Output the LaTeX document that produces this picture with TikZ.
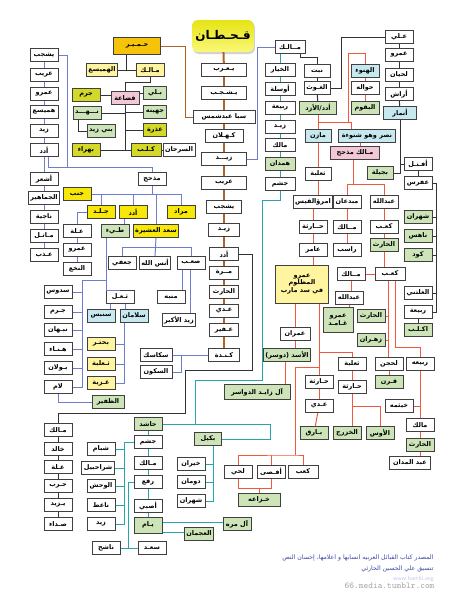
\documentclass[tikz,border=0pt]{standalone}
\usepackage{fontspec}
\usepackage{tikz}
\usetikzlibrary{shadows}
\TeXXeTstate=1
\newfontfamily\arabicfont[Script=Arabic]{DejaVu Sans}
\newcommand{\artxt}[1]{\beginR #1\endR}
\definecolor{brn}{RGB}{176,98,40}
\definecolor{bl}{RGB}{110,125,205}
\definecolor{tl}{RGB}{40,165,170}
\definecolor{rd}{RGB}{240,90,60}
\definecolor{yel}{RGB}{248,232,10}
\definecolor{olv}{RGB}{212,216,40}
\definecolor{lgr}{RGB}{205,228,185}
\definecolor{pal}{RGB}{255,244,160}
\definecolor{hgold}{RGB}{245,195,10}
\definecolor{pnk}{RGB}{242,200,215}
\definecolor{lbl}{RGB}{200,232,240}
\definecolor{ttop}{RGB}{230,228,20}
\definecolor{tbot}{RGB}{250,248,120}
\definecolor{srct}{RGB}{60,70,170}
\begin{document}
\begin{tikzpicture}[x=1pt,y=-1pt]
\tikzstyle{box}=[rectangle,draw=black!75,line width=1pt,fill=white,inner xsep=1.5pt,inner ysep=0pt,minimum height=13pt,minimum width=28pt,font=\arabicfont\bfseries\fontsize{6.5}{7.5}\selectfont]
\tikzstyle{qbox}=[rectangle,rounded corners=6pt,top color=ttop,bottom color=tbot,minimum width=57pt,minimum height=32pt,drop shadow={shadow xshift=1pt,shadow yshift=-2pt,opacity=0.35},font=\arabicfont\bfseries\fontsize{12}{14}\selectfont]
\tikzstyle{brl}=[draw=brn,line width=2pt]
\tikzstyle{bll}=[draw=bl,line width=1pt]
\tikzstyle{tll}=[draw=tl,line width=1pt]
\tikzstyle{rdl}=[draw=rd,line width=1pt]
\tikzstyle{bkl}=[draw=black!80,line width=1pt]
\useasboundingbox (0,0) rectangle (448,600);
\fill[white] (0,0) rectangle (448,600);

\node[qbox] (qahtan) at (223,36) {\artxt{قـحـطـان}};
\node[box,minimum width=45pt] (yarub) at (224,70) {\artxt{يـعـرب}};
\node[box,minimum width=45pt] (yashjub) at (224,93) {\artxt{يـشـجـب}};
\node[box,minimum width=62pt] (saba) at (224,117) {\artxt{سبا عبدشمس}};
\node[box,minimum width=38pt] (kahlan) at (224,136) {\artxt{كـهـلان}};
\node[box,minimum width=45pt] (zaid) at (224,159) {\artxt{زيـــد}};
\node[box,minimum width=45pt] (arib) at (224,183) {\artxt{عريب}};
\node[box,minimum width=35pt] (yashjubb) at (224,207) {\artxt{يشجب}};
\node[box,minimum width=31pt] (zaidb) at (224,230) {\artxt{زيـد}};
\node[box,minimum width=29pt] (udad) at (224,254) {\artxt{أدد}};
\node[box,minimum width=29pt] (murra) at (224,273) {\artxt{مــرة}};
\node[box,minimum width=29pt] (harith) at (224,292) {\artxt{الحارث}};
\node[box,minimum width=29pt] (adi) at (224,311) {\artxt{عـدي}};
\node[box,minimum width=29pt] (ufair) at (224,330) {\artxt{عـفير}};
\node[box,minimum width=31pt] (kinda) at (224,355) {\artxt{كـنـدة}};

\node[box,fill=hgold,minimum width=47pt,minimum height=17pt] (himyar) at (137,46) {\artxt{حـمـيـر}};
\node[box,fill=pal] (hamaisa) at (102,70) {\artxt{الهميسع}};
\node[box,fill=pal] (malika) at (150,70) {\artxt{مـالـك}};
\node[box,fill=pnk] (qudaa) at (125,98) {\artxt{قضاعة}};
\node[box,fill=olv] (jarm) at (86,95) {\artxt{جرم}};
\node[box,fill=lgr] (nahd) at (87,113) {\artxt{نـــهـــد}};
\node[box,fill=lgr] (banizaid) at (101,131) {\artxt{بني زيد}};
\node[box,fill=lgr,minimum width=23pt] (bali) at (155,93) {\artxt{بـلي}};
\node[box,fill=lgr,minimum width=23pt] (juhaina) at (155,112) {\artxt{جهينه}};
\node[box,fill=olv,minimum width=23pt] (udhra) at (155,130) {\artxt{عذرة}};
\node[box,fill=olv,minimum width=30pt] (kalb) at (146,150) {\artxt{كـلـب}};
\node[box,minimum width=32pt] (sarhan) at (179,150) {\artxt{السرحان}};
\node[box,fill=olv] (bahra) at (86,150) {\artxt{بهراء}};

\node[box] (la) at (44,55) {\artxt{يشجب}};
\node[box] (lb) at (44,75) {\artxt{عريب}};
\node[box] (lc) at (44,94) {\artxt{عمرو}};
\node[box] (ld) at (44,112) {\artxt{هميسع}};
\node[box] (le) at (44,131) {\artxt{زيد}};
\node[box] (lf) at (44,150) {\artxt{أدد}};
\node[box] (lg) at (44,179) {\artxt{أشعر}};
\node[box] (lh) at (44,198) {\artxt{الجماهير}};
\node[box] (li) at (44,217) {\artxt{ناجية}};
\node[box] (lj) at (44,236) {\artxt{مـاتـل}};
\node[box] (lk) at (44,255) {\artxt{عـذب}};

\node[box] (madh) at (152,179) {\artxt{مذحج}};
\node[box,fill=yel] (janb) at (77,194) {\artxt{جنب}};
\node[box,fill=yel] (jild) at (101,212) {\artxt{جـلـد}};
\node[box,fill=yel] (udady) at (133,212) {\artxt{أدد}};
\node[box,fill=yel] (murad) at (181,212) {\artxt{مراد}};
\node[box,fill=yel,minimum width=42pt] (saad) at (156,231) {\artxt{سعد العشيرة}};
\node[box,fill=lgr] (tayy) at (115,231) {\artxt{طـيء}};
\node[box] (ila) at (77,231) {\artxt{عـلة}};
\node[box] (amrn) at (77,250) {\artxt{عمرو}};
\node[box] (nakha) at (77,269) {\artxt{النخع}};
\node[box] (jufi) at (122,263) {\artxt{جعفي}};
\node[box,minimum width=26pt] (anas) at (155,263) {\artxt{أنس الله}};
\node[box] (sab) at (191,263) {\artxt{صعـب}};
\node[box] (munabbih) at (171,297) {\artxt{منبه}};
\node[box,minimum width=32pt] (zaidak) at (179,320) {\artxt{زيد الأكبر}};
\node[box,minimum width=32pt] (sakasik) at (156,355) {\artxt{سكاسك}};
\node[box,minimum width=32pt] (sakun) at (156,372) {\artxt{السكون}};

\node[box] (sadus) at (58,292) {\artxt{سدوس}};
\node[box] (thual) at (120,297) {\artxt{ثـعـل}};
\node[box] (jarmt) at (58,312) {\artxt{جـرم}};
\node[box] (nabhan) at (58,330) {\artxt{نبـهان}};
\node[box] (hinna) at (58,349) {\artxt{هـنـاء}};
\node[box] (bawlan) at (58,368) {\artxt{بـولان}};
\node[box] (lam) at (58,387) {\artxt{لام}};
\node[box,fill=lbl] (sinbis) at (101,316) {\artxt{سنبس}};
\node[box,fill=lbl] (salaman) at (134,316) {\artxt{سلامان}};
\node[box,fill=pal] (buhtur) at (101,344) {\artxt{بحتـر}};
\node[box,fill=pal] (thalabay) at (101,364) {\artxt{ثـعلبة}};
\node[box,fill=pal] (ghuzayya) at (101,383) {\artxt{غـزية}};
\node[box,fill=lgr,minimum width=32pt] (zafir) at (108,402) {\artxt{الظفير}};

\node[box] (malikl) at (58,430) {\artxt{مـالك}};
\node[box] (khalid) at (58,449) {\artxt{خالد}};
\node[box] (ilab) at (58,467) {\artxt{عـلة}};
\node[box] (harb) at (58,486) {\artxt{حـرب}};
\node[box] (yazid) at (58,505) {\artxt{يـزيد}};
\node[box] (sudda) at (58,524) {\artxt{صـداء}};
\node[box] (shibam) at (101,449) {\artxt{شبام}};
\node[box,minimum width=33pt] (shurahbil) at (98,468) {\artxt{شراحبيل}};
\node[box] (wahsh) at (101,486) {\artxt{الوحش}};
\node[box] (naet) at (101,505) {\artxt{ناعط}};
\node[box] (zaidl) at (101,524) {\artxt{زيد}};
\node[box] (nashih) at (106,548) {\artxt{ناشح}};
\node[box,fill=lgr] (hashid) at (148,424) {\artxt{حاشد}};
\node[box] (jushamb) at (148,442) {\artxt{جشم}};
\node[box] (malikb) at (148,463) {\artxt{مـالك}};
\node[box] (rafa) at (148,482) {\artxt{رفع}};
\node[box] (asbi) at (148,506) {\artxt{أصبي}};
\node[box,fill=lgr,minimum height=16pt] (yam) at (148,525) {\artxt{يـام}};
\node[box] (saadb) at (152,548) {\artxt{سعـد}};
\node[box,fill=lgr,minimum width=27pt] (bakil) at (208,439) {\artxt{بكيل}};
\node[box] (khairan) at (191,464) {\artxt{خيران}};
\node[box] (dauman) at (191,482) {\artxt{دومان}};
\node[box] (shahrb) at (191,501) {\artxt{شهران}};
\node[box,fill=lgr] (almurra) at (237,524) {\artxt{آل مره}};
\node[box,fill=lgr] (ajman) at (199,534) {\artxt{العجمان}};

\node[box,minimum width=30pt] (malikt) at (290,47) {\artxt{مــالـك}};
\node[box,minimum width=30pt] (khiyar) at (280,70) {\artxt{الخيار}};
\node[box,minimum width=30pt] (awsala) at (280,89) {\artxt{أوسلة}};
\node[box,minimum width=30pt] (rabia) at (280,108) {\artxt{ربيعة}};
\node[box,minimum width=30pt] (zaidr) at (280,127) {\artxt{زيـد}};
\node[box,minimum width=30pt] (malikr) at (280,145) {\artxt{مالك}};
\node[box,fill=lgr,minimum width=30pt] (hamdan) at (280,164) {\artxt{همدان}};
\node[box,minimum width=30pt] (jusham) at (280,184) {\artxt{جشم}};
\node[box,minimum width=26pt] (nabt) at (317,71) {\artxt{نبت}};
\node[box,minimum width=26pt] (ghawth) at (317,88) {\artxt{الغـوث}};
\node[box,fill=lgr,minimum width=37pt] (azd) at (318,108) {\artxt{أدد/الأزد}};
\node[box,fill=lbl] (hanu) at (365,71) {\artxt{الهنوء}};
\node[box] (hawala) at (365,88) {\artxt{حواله}};
\node[box,fill=lgr] (baqum) at (365,108) {\artxt{البقوم}};
\node[box] (ali) at (399,37) {\artxt{عـلي}};
\node[box] (amr) at (399,55) {\artxt{عمرو}};
\node[box] (lihyan) at (399,75) {\artxt{لحيان}};
\node[box] (arash) at (399,94) {\artxt{أراش}};
\node[box,fill=lbl,minimum width=33pt] (anmar) at (400,113) {\artxt{أنمار}};
\node[box,fill=lbl,minimum width=26pt] (mazin) at (318,136) {\artxt{مازن}};
\node[box,fill=lbl,minimum width=57pt] (nasr) at (367,136) {\artxt{نصر وهو شنوءة}};
\node[box,fill=pnk,minimum width=49pt] (madhhij) at (355,153) {\artxt{مـالك مذحج}};

\node[box,minimum width=26pt] (thalaba) at (318,174) {\artxt{ثعلبة}};
\node[box,fill=lgr,minimum width=26pt] (bajila) at (380,173) {\artxt{بجيلة}};
\node[box] (aftal) at (418,164) {\artxt{أفـتـل}};
\node[box] (afras) at (418,183) {\artxt{عفرس}};
\node[box,minimum width=38pt] (imru) at (313,202) {\artxt{امرؤالقيس}};
\node[box] (mubdian) at (347,202) {\artxt{مبدعان}};
\node[box] (abdullah) at (384,202) {\artxt{عبدالله}};
\node[box] (haritha) at (313,227) {\artxt{حــارثة}};
\node[box] (malikm) at (347,227) {\artxt{مــالك}};
\node[box] (kab) at (384,227) {\artxt{كعـب}};
\node[box,fill=lgr] (shahran) at (418,217) {\artxt{شهران}};
\node[box,fill=lgr] (nahis) at (418,236) {\artxt{ناهس}};
\node[box,fill=lgr] (harithg) at (384,245) {\artxt{الحارث}};
\node[box] (amir) at (313,250) {\artxt{عامر}};
\node[box] (rasib) at (347,250) {\artxt{راسب}};
\node[box,fill=lgr] (kud) at (418,255) {\artxt{كود}};
\node[box,fill=pal,minimum width=53pt,minimum height=38pt,align=center] (amrm) at (302,284) {\artxt{عمرو}\\\artxt{المظلوم}\\\artxt{في سد مارب}};
\node[box] (maliks) at (351,274) {\artxt{مــالك}};
\node[box,minimum width=30pt] (kabs) at (390,274) {\artxt{كعـب}};
\node[box] (ghalti) at (418,293) {\artxt{الغلتني}};
\node[box] (abdullahs) at (349,298) {\artxt{عبدالله}};
\node[box] (rabiar) at (418,312) {\artxt{ربيعة}};
\node[box,fill=lgr] (aklub) at (418,330) {\artxt{اكـلـب}};
\node[box,fill=lgr,minimum width=30pt,minimum height=25pt,align=center] (ghamid) at (338,320) {\artxt{عمرو}\\\artxt{غـامـد}};
\node[box,fill=lgr] (harithz) at (371,316) {\artxt{الحارث}};
\node[box,fill=lgr] (zahran) at (371,340) {\artxt{زهـران}};
\node[box,minimum width=30pt] (imran) at (295,334) {\artxt{عمران}};
\node[box,fill=lgr,minimum width=41pt] (asad) at (287,355) {\artxt{الأسد (دوسر)}};
\node[box,fill=lgr,minimum width=66pt,minimum height=15pt] (alzayed) at (257,392) {\artxt{آل زايـد الدواسر}};
\node[box] (thalabab) at (352,364) {\artxt{ثعلبة}};
\node[box] (lihjan) at (389,364) {\artxt{لحجن}};
\node[box] (rabiab) at (420,364) {\artxt{ربيعه}};
\node[box] (harithaa) at (319,382) {\artxt{حـارثة}};
\node[box] (harithab) at (352,387) {\artxt{حـارثة}};
\node[box,fill=lgr] (qarn) at (389,382) {\artxt{قـرن}};
\node[box] (khaithama) at (399,406) {\artxt{خيثمه}};
\node[box] (adir) at (319,406) {\artxt{عـدي}};
\node[box] (malikk) at (420,425) {\artxt{مالك}};
\node[box,fill=lgr] (bariq) at (314,433) {\artxt{بـارق}};
\node[box,fill=lgr] (khazraj) at (347,433) {\artxt{الخزرج}};
\node[box,fill=lgr] (aws) at (380,433) {\artxt{الأوس}};
\node[box,fill=lgr] (harithk) at (420,445) {\artxt{الحارث}};
\node[box,minimum width=41pt] (abdmadan) at (410,463) {\artxt{عبد المدان}};
\node[box] (luhay) at (238,472) {\artxt{لحي}};
\node[box] (afsa) at (271,472) {\artxt{أفـصى}};
\node[box,minimum width=30pt] (kabb) at (303,472) {\artxt{كعب}};
\node[box,fill=lgr,minimum width=42pt] (khuzaa) at (259,500) {\artxt{خـزاعه}};

\node[font=\arabicfont\fontsize{6.2}{7}\selectfont,text=srct,anchor=east] (src) at (437,558) {\artxt{المصدر كتاب القبائل العربيه انسابها و اعلامها، إحسان النص}};
\node[font=\arabicfont\fontsize{6.2}{7}\selectfont,text=srct,anchor=east] (tns) at (437,569) {\artxt{تنسيق علي الحسين الحارثي}};
\node[font=\sffamily\fontsize{6}{7}\selectfont,text=bl!45,anchor=east] (web) at (437,579) {www.harthi.org};
\node[font=\ttfamily\fontsize{9}{10}\selectfont,text=gray!70,anchor=east] (wm) at (438,586) {66.media.tumblr.com};

\draw[brl](qahtan) -- (yarub);
\draw[brl](yarub) -- (yashjub);
\draw[brl](yashjub) -- (saba);
\draw[brl](saba) -- (kahlan);
\draw[brl](kahlan) -- (zaid);
\draw[brl](zaid) -- (arib);
\draw[brl](arib) -- (yashjubb);
\draw[brl](yashjubb) -- (zaidb);
\draw[brl](zaidb) -- (udad);
\draw[brl](udad) -- (murra);
\draw[brl](murra) -- (harith);
\draw[brl](harith) -- (adi);
\draw[brl](adi) -- (ufair);
\draw[brl](ufair) -- (kinda);
\draw[draw=brn,line width=1pt](himyar.east) -- (185,46) |- (saba.west);

\draw[bkl]([xshift=-11pt]himyar.south) |- (hamaisa.east);
\draw[bkl](hamaisa.east) -- (malika.west);
\draw[bkl](malika.south) -- ++(0,5) -| (qudaa.north);
\draw[bkl](qudaa.south) |- (kalb.west);
\draw[bkl](qudaa.south) |- (bahra.east);
\draw[bkl](jarm.east) -- (jarm.east-|qudaa.west);
\draw[bkl](bali.west) -- (bali.west-|qudaa.east);
\draw[bkl](nahd.east) -- (nahd.east-|qudaa.south);
\draw[bkl](juhaina.west) -- (juhaina.west-|qudaa.south);
\draw[bkl](udhra.west) -- (udhra.west-|qudaa.south);
\draw[bkl]([xshift=-9pt]nahd.south) |- (banizaid.west);
\draw[bkl](kalb) -- (sarhan);

\draw[bll](la) -- (lb);
\draw[bll](lb) -- (lc);
\draw[bll](lc) -- (ld);
\draw[bll](ld) -- (le);
\draw[bll](le) -- (lf);
\draw[bll](lf) -- (lg);
\draw[bll](lg) -- (lh);
\draw[bll](lh) -- (li);
\draw[bll](li) -- (lj);
\draw[bll](lj) -- (lk);
\draw[bll](la.east) -| (67,167) -| (madh.north);
\draw[bll]([xshift=4pt]lf.south) |- (67,167);
\draw[bll](malikt.west) -| (257,159) -- (zaid.east);

\draw[bll](madh.south) -- (madh.south|-janb.east);
\draw[bll](janb.east) -| (murad.north);
\draw[bll](jild.north) -- (jild.north|-janb.east);
\draw[bll](udady.north) -- (udady.north|-janb.east);
\draw[bll](saad.north) -- (saad.north|-janb.east);
\draw[bll](jild.west) -| (ila.north);
\draw[bll](ila) -- (amrn);
\draw[bll](amrn) -- (nakha);
\draw[bll]([xshift=-9pt]udady.south) -- ([xshift=9pt]tayy.north);
\draw[bll](jufi.north) -- ++(0,-9) -| (sab.north);
\draw[bll](saad.south) -- (anas.north);
\draw[bll]([xshift=-9pt]sab.south) -- ([xshift=-9pt]sab.south|-munabbih.north);
\draw[bll]([xshift=-1pt]sab.south) -- ([xshift=-1pt]sab.south|-zaidak.north);
\draw[bll](sakasik) -- (kinda);
\draw[bll](kinda.west) ++(-27,0) |- (sakun.east);

\draw[bll]([xshift=-9pt]tayy.south) |- (82,280) |- (lam.east);
\draw[bll]([xshift=-9pt]tayy.south) |- (thual.north-|106,0) -| (thual.north);
\draw[bll](sadus.east) -- ++(9.5,0);
\draw[bll](jarmt.east) -- ++(9.5,0);
\draw[bll](nabhan.east) -- ++(9.5,0);
\draw[bll](hinna.east) -- ++(9.5,0);
\draw[bll](bawlan.east) -- ++(9.5,0);
\draw[bll]([xshift=-10pt]thual.south) -- ([xshift=-10pt]thual.south|-sinbis.north);
\draw[bll]([xshift=5pt]thual.south) -- ([xshift=5pt]thual.south|-salaman.north);
\draw[bll]([xshift=-10pt]salaman.south) |- (ghuzayya.east);
\draw[bll](buhtur.east) -- ++(9,0);
\draw[bll](thalabay.east) -- ++(9,0);
\draw[bll](lam.south) |- (zafir.west);

\draw[bkl](udad.east) -| (252,370) -| (185,413) -| (malikl.north);
\draw[bkl](malikl) -- (khalid);
\draw[bkl](khalid) -- (ilab);
\draw[bkl](ilab) -- (harb);
\draw[bkl](harb) -- (yazid);
\draw[bkl](yazid) -- (sudda);

\draw[tll](khiyar.north|-malikt.south) -- (khiyar.north);
\draw[tll](khiyar) -- (awsala);
\draw[tll](awsala) -- (rabia);
\draw[tll](rabia) -- (zaidr);
\draw[tll](zaidr) -- (malikr);
\draw[tll](malikr) -- (hamdan);
\draw[tll](hamdan) -- (jusham);
\draw[tll](jusham.south) |- (262,200) -- (262,380) -| (195,424);
\draw[tll](hashid.east) -| (270,439) -- (bakil.east);
\draw[tll]([xshift=5pt]bakil.south) |- (shahrb.east);
\draw[tll](khairan.east) -- ++(8.5,0);
\draw[tll](dauman.east) -- ++(8.5,0);
\draw[tll](hashid) -- (jushamb);
\draw[tll](jushamb) -- (malikb);
\draw[tll](malikb) -- (rafa);
\draw[tll](rafa) -- (asbi);
\draw[tll](asbi) -- (yam);
\draw[tll](jushamb.west) -| ([xshift=9pt]zaidl.east) -- (zaidl.east);
\draw[tll](shibam.east) -- ++(9,0);
\draw[tll](shurahbil.east) -- ++(10,0);
\draw[tll](wahsh.east) -- ++(9,0);
\draw[tll](naet.east) -- ++(9,0);
\draw[tll](rafa.west) -| ([xshift=8pt]nashih.east) -- (nashih.east);
\draw[tll](nashih.east) -- (saadb.west);
\draw[tll]([yshift=3pt]yam.east) -- ([yshift=3pt]yam.east-|almurra.west);
\draw[tll]([yshift=-7pt]yam.east) -- ([yshift=-7pt]yam.east-|ajman.west);

\draw[bkl]([xshift=10pt]malikt.south) |- ([yshift=7pt]nabt.north) -- (nabt.north);
\draw[bkl](nabt) -- (ghawth);
\draw[bkl](ghawth) -- (azd);
\draw[bkl](ghawth.east) -- ++(11,0) |- (ali.west);
\draw[bkl](ali) -- (amr);
\draw[bkl](amr) -- (lihyan);
\draw[bkl](lihyan) -- (arash);
\draw[bkl](arash) -- (anmar);
\draw[bkl](anmar.south) |- (aftal.west);
\draw[bkl](anmar.south) |- (bajila.east);
\draw[bkl](aftal) -- (afras);
\draw[bkl](afras.east) -- ++(4,0) |- (rabiar.east);
\draw[bkl](shahran.east) -- ++(4,0);
\draw[bkl](nahis.east) -- ++(4,0);
\draw[bkl](kud.east) -- ++(4,0);
\draw[bkl](ghalti.east) -- ++(4,0);
\draw[bkl](rabiar) -- (aklub);

\draw[rdl](azd) -- (mazin);
\draw[rdl](azd.south) ++(0,7) -| ([xshift=-16pt]nasr.north);
\draw[rdl](348,122) -- (348,53) -| (hanu.north);
\draw[rdl](hanu) -- (hawala);
\draw[rdl](hawala) -- (baqum);
\draw[rdl](mazin) -- (thalaba);
\draw[rdl]([xshift=-7pt]nasr.south) -- ([xshift=-7pt]nasr.south|-madhhij.north);
\draw[rdl]([xshift=-2pt]madhhij.south) -- ++(0,24) -| (abdullah.north);
\draw[rdl]([xshift=-2pt]madhhij.south) ++(0,24) -| (mubdian.north);
\draw[rdl](thalaba.south) -- (thalaba.south|-imru.north);
\draw[rdl](imru) -- (haritha);
\draw[rdl](haritha) -- (amir);
\draw[rdl](amir.south) -- (amir.south|-amrm.north);
\draw[rdl](mubdian) -- (malikm);
\draw[rdl](malikm) -- (rasib);
\draw[rdl](abdullah) -- (kab);
\draw[rdl](kab) -- (harithg);
\draw[rdl](harithg.south) -- (harithg.south|-kabs.north);
\draw[rdl](kabs) -- (maliks);
\draw[rdl](maliks.south) -- (maliks.south|-abdullahs.north);
\draw[rdl](abdullahs.south) -- (abdullahs.south|-ghamid.north);
\draw[rdl]([xshift=-2pt]kabs.south) -- ([xshift=-2pt]kabs.south|-lihjan.north);
\draw[rdl](harithz.east) -- ++(2.5,0);
\draw[rdl](zahran.east) -- ++(2.5,0);
\draw[rdl](lihjan) -- (qarn);
\draw[rdl]([xshift=5pt]kabs.south) |- ([yshift=10pt]rabiab.north) -- (rabiab.north);
\draw[rdl](rabiab) -- (malikk);
\draw[rdl](khaithama.east) -- ++(7,0);
\draw[rdl](malikk) -- (harithk);
\draw[rdl](harithk.south) -- (harithk.south|-abdmadan.north);
\draw[rdl](harithaa.north|-amrm.south) -- (harithaa.north);
\draw[rdl](319,352) -| (thalabab.north);
\draw[rdl](319,367) -| (295,455);
\draw[rdl](luhay.north) |- (295,455) -| (kabb.north);
\draw[rdl](afsa.north) -- ++(0,-10);
\draw[rdl](imran.north) -- (imran.north|-amrm.south);
\draw[rdl](imran.south) -- (imran.south|-asad.north);
\draw[rdl]([xshift=-2pt]asad.south) -- ([xshift=-2pt]asad.south|-alzayed.north);
\draw[rdl](thalabab) -- (harithab);
\draw[rdl](harithab.south) -- (harithab.south|-khazraj.north);
\draw[rdl](harithab.south) ++(0,12) -| (aws.north);
\draw[rdl](harithaa) -- (adir);
\draw[rdl](adir) -- (bariq);
\draw[rdl](luhay.south) -- ++(0,9) -| (afsa.south);
\draw[rdl](khuzaa.north) -- ++(0,-5);
\end{tikzpicture}
\end{document}
